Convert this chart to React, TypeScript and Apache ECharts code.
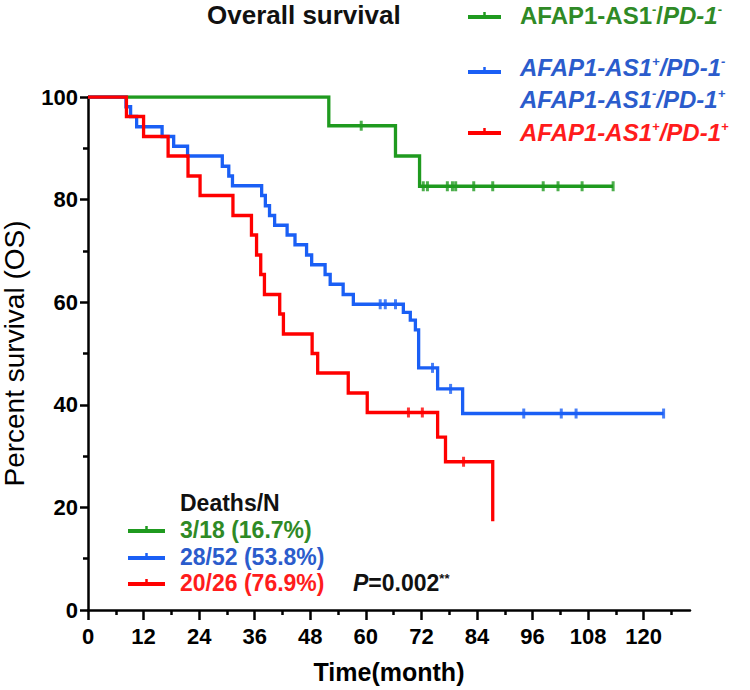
import { useEffect, useRef } from 'react';
import * as echarts from 'echarts';

const FONT = '"Liberation Sans", Arial, Helvetica, sans-serif';

// axis ticks
const xTicks = [0, 12, 24, 36, 48, 60, 72, 84, 96, 108, 120];
const xMinorTicks = [6, 18, 30, 42, 54, 66, 78, 90, 102, 114, 126];
const yTicks = [0, 20, 40, 60, 80, 100];
const yMinorTicks = [10, 30, 50, 70, 90];

// Kaplan-Meier step points (time in months, percent survival after the event)
const greenTimes = [0, 52, 66.4, 71.6, 113.4];
const greenSurv = [100, 94.4, 88.5, 82.6, 82.6];
const greenCensor = [59, 72.4, 73.3, 77.6, 78.7, 79.4, 83.3, 87.4, 98.3, 101.5, 106.7, 113.4];

const blueTimes = [0, 8.2, 9.2, 10.5, 16, 18.5, 21.5, 29, 30.4, 31.2, 37.5, 38.3, 39.2, 40.3, 43, 44.7, 47.2, 48.3, 51.2, 52.3, 55.1, 57.3, 68.1, 69.6, 70.7, 71.4, 75.5, 80.9, 124.3];
const blueSurv = [100, 98.1, 96.2, 94.2, 92.3, 90.4, 88.5, 86.5, 84.6, 82.7, 80.8, 78.8, 76.9, 75.0, 73.1, 71.2, 69.2, 67.3, 65.4, 63.5, 61.5, 59.6, 58.0, 56.5, 54.6, 47.2, 43.1, 38.3, 38.3];
const blueCensor = [63.1, 64.2, 66.4, 74.4, 78.3, 94.1, 102.2, 105.4, 124.3];

const redTimes = [0, 8.3, 12, 17.3, 21.6, 24.2, 31.3, 35.3, 36.4, 37.3, 38.1, 41.4, 42.2, 48.4, 49.6, 56.2, 60.3, 75.5, 77.2, 87.4];
const redSurv = [100, 96.2, 92.3, 88.5, 84.6, 80.8, 76.9, 73.1, 69.2, 65.4, 61.5, 57.7, 53.8, 50.0, 46.2, 42.3, 38.5, 33.7, 28.9, 17.3];
const redCensor = [69.2, 72.2, 81.1];

const GREEN = '#1f9a1f';
const BLUE = '#1a5ff5';
const RED = '#ff0000';
const GREEN_TXT = '#2f8a26';
const BLUE_TXT = '#2b5ccc';
const RED_TXT = '#ff1c1c';

function levelAt(times: number[], surv: number[], t: number) {
  let v = surv[0];
  for (let i = 0; i < times.length; i++) if (times[i] <= t) v = surv[i];
  return v;
}

function stepSeries(name: string, times: number[], surv: number[], color: string) {
  return {
    name,
    type: 'line',
    step: 'end',
    xAxisIndex: 0,
    yAxisIndex: 0,
    data: times.map((t, i) => [t, surv[i]]),
    showSymbol: false,
    symbol: 'none',
    lineStyle: { color, width: 3.3, join: 'miter', cap: 'butt' },
    z: 3,
  };
}

function censorSeries(name: string, times: number[], surv: number[], cens: number[], color: string) {
  return {
    name,
    type: 'scatter',
    xAxisIndex: 0,
    yAxisIndex: 0,
    data: cens.map((t) => [t, levelAt(times, surv, t)]),
    symbol: 'rect',
    symbolSize: [3, 10],
    itemStyle: { color },
    z: 4,
  };
}

function legendLine(x1: number, x2: number, y: number, color: string) {
  const mid = (x1 + x2) / 2;
  return [
    { type: 'line', shape: { x1, y1: y, x2, y2: y }, style: { stroke: color, lineWidth: 4 } },
    { type: 'line', shape: { x1: mid, y1: y - 5, x2: mid, y2: y + 2 }, style: { stroke: color, lineWidth: 2.5 } },
  ];
}

function richText(x: number, y: number, text: string, color: string, size: number, italicMain: boolean) {
  return {
    type: 'text',
    x,
    y,
    style: {
      text,
      fill: color,
      fontFamily: FONT,
      fontSize: size,
      fontWeight: 'bold',
      verticalAlign: 'middle',
      align: 'left',
      rich: {
        n: { fontFamily: FONT, fontSize: size, fontWeight: 'bold', fill: color, fontStyle: 'normal' },
        i: { fontFamily: FONT, fontSize: size, fontWeight: 'bold', fill: color, fontStyle: italicMain ? 'italic' : 'normal' },
        it: { fontFamily: FONT, fontSize: size, fontWeight: 'bold', fill: color, fontStyle: 'italic' },
        s: { fontFamily: FONT, fontSize: Math.round(size * 0.55), fontWeight: 'bold', fill: color, verticalAlign: 'top', fontStyle: italicMain ? 'italic' : 'normal' },
      },
    },
  };
}

export default function App() {
  const ref = useRef<HTMLDivElement>(null);
  useEffect(() => {
    if (!ref.current) return;
    const chart = echarts.init(ref.current, null, { renderer: 'svg' });
    const axisLineStyle = { color: '#000', width: 2.5 };
    const option: any = {
      animation: false,
      backgroundColor: '#fff',
      grid: { left: 88, right: 60, top: 97, bottom: 80, outerBoundsMode: 'none' },
      xAxis: [
        {
          type: 'value', min: 0, max: 130, position: 'bottom',
          axisLine: { show: true, lineStyle: axisLineStyle },
          axisTick: { show: true, length: 10, lineStyle: axisLineStyle, customValues: xTicks },
          axisLabel: { customValues: xTicks, margin: 15, fontSize: 22, fontWeight: 'bold', color: '#000', fontFamily: FONT },
          splitLine: { show: false },
          name: 'Time(month)', nameLocation: 'middle', nameGap: 49,
          nameTextStyle: { fontSize: 25, fontWeight: 'bold', color: '#000', fontFamily: FONT },
        },
        {
          type: 'value', min: 0, max: 130, position: 'bottom',
          axisLine: { show: false },
          axisTick: { show: true, length: 5, lineStyle: axisLineStyle, customValues: xMinorTicks },
          axisLabel: { show: false },
          splitLine: { show: false },
        },
      ],
      yAxis: [
        {
          type: 'value', min: 0, max: 100, position: 'left',
          axisLine: { show: true, lineStyle: axisLineStyle },
          axisTick: { show: true, length: 8, lineStyle: axisLineStyle, customValues: yTicks },
          axisLabel: { customValues: yTicks, margin: 10, fontSize: 22, fontWeight: 'bold', color: '#000', fontFamily: FONT },
          splitLine: { show: false },
          name: 'Percent survival (OS)', nameLocation: 'middle', nameGap: 60, nameRotate: 90,
          nameTextStyle: { fontSize: 28, color: '#000', fontFamily: FONT },
        },
        {
          type: 'value', min: 0, max: 100, position: 'left',
          axisLine: { show: false },
          axisTick: { show: true, length: 5, lineStyle: axisLineStyle, customValues: yMinorTicks },
          axisLabel: { show: false },
          splitLine: { show: false },
        },
      ],
      series: [
        stepSeries('AFAP1-AS1-/PD-1-', greenTimes, greenSurv, GREEN),
        stepSeries('AFAP1-AS1+/PD-1- or AFAP1-AS1-/PD-1+', blueTimes, blueSurv, BLUE),
        stepSeries('AFAP1-AS1+/PD-1+', redTimes, redSurv, RED),
        censorSeries('green censored', greenTimes, greenSurv, greenCensor, GREEN),
        censorSeries('blue censored', blueTimes, blueSurv, blueCensor, BLUE),
        censorSeries('red censored', redTimes, redSurv, redCensor, RED),
      ],
      graphic: [
        {
          type: 'text', x: 207, y: 15,
          style: { text: 'Overall survival', fontFamily: FONT, fontSize: 26, fontWeight: 'bold', fill: '#111', verticalAlign: 'middle' },
        },
        ...legendLine(468, 501, 17, GREEN),
        richText(520, 15, '{n|AFAP1-AS1}{s|-}{n|/}{it|PD-1}{s|-}', GREEN_TXT, 24, false),
        ...legendLine(468, 501, 72, BLUE),
        richText(520, 67, '{i|AFAP1-AS1}{s|+}{i|/PD-1}{s|-}', BLUE_TXT, 24, true),
        richText(520, 99, '{i|AFAP1-AS1}{s|-}{i|/PD-1}{s|+}', BLUE_TXT, 24, true),
        ...legendLine(468, 501, 133, RED),
        richText(520, 132, '{i|AFAP1-AS1}{s|+}{i|/PD-1}{s|+}', RED_TXT, 24, true),

        {
          type: 'text', x: 180, y: 503,
          style: { text: 'Deaths/N', fontFamily: FONT, fontSize: 23, fontWeight: 'bold', fill: '#111', verticalAlign: 'middle' },
        },
        ...legendLine(128, 165, 531, GREEN),
        richText(180, 530, '{n|3/18 (16.7%)}', GREEN_TXT, 23, false),
        ...legendLine(128, 165, 558, BLUE),
        richText(180, 557, '{n|28/52 (53.8%)}', BLUE_TXT, 23, false),
        ...legendLine(128, 165, 584, RED),
        richText(180, 583, '{n|20/26 (76.9%)}', RED_TXT, 23, false),
        richText(353, 583, '{it|P}{n|=0.002}{s|**}', '#111', 23, false),
      ],
    };
    chart.setOption(option);
    return () => chart.dispose();
  }, []);
  return (
    <div
      ref={ref}
      style={{ position: 'fixed', left: 0, top: 0, width: 750, height: 690, background: '#fff' }}
    />
  );
}
